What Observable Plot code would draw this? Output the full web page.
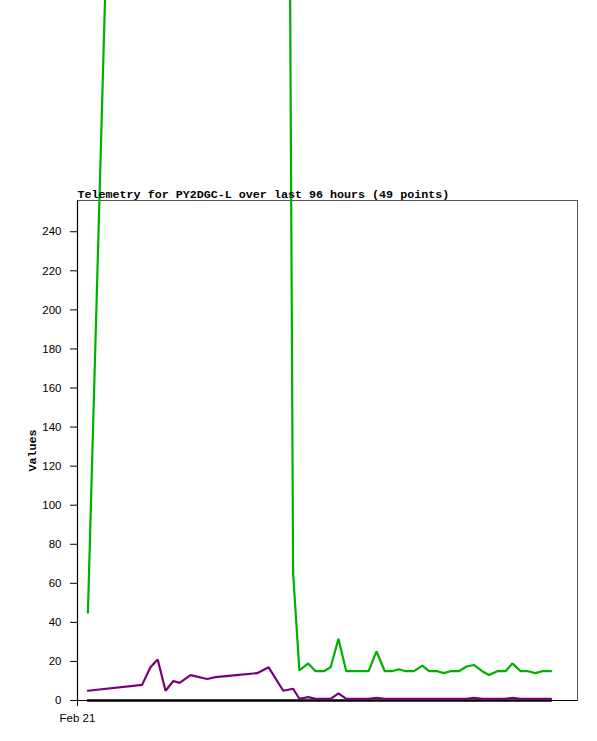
<!DOCTYPE html>
<html><head><meta charset="utf-8">
<script src="https://cdn.jsdelivr.net/npm/d3@7"></script>
<script src="https://cdn.jsdelivr.net/npm/@observablehq/plot@0.6"></script>
<style>
body{margin:0;background:#fff}
#chart svg{overflow:visible}
</style>
</head><body><div id="chart"></div>
<script>
// hours since start of window (Feb 21 00:00)
const hours = [2.0, 12.4, 14.0, 15.4, 16.9, 18.4, 19.6, 21.7, 24.9, 26.5, 30.5, 34.5, 36.7, 39.5, 41.4,
  42.6, 44.3, 45.7, 47.3, 48.6, 50.1, 51.6, 53.0, 54.5, 55.9, 57.4, 59.0, 60.4, 61.7, 63.0, 64.6,
  66.2, 67.5, 69.1, 70.3, 71.6, 73.2, 74.7, 76.1, 77.7, 79.0, 80.6, 82.2, 83.5, 85.1, 86.5, 87.9, 89.2, 90.9];
const greenValues = [45, 1040, 1040, 1040, 1040, 1040, 1040, 1040, 1040, 1040, 1040, 1040, 1040, 1040, 65,
  15.4, 19, 15, 15, 17, 31.6, 15, 15, 15, 15, 25.2, 15, 15, 16, 15, 15,
  17.9, 15, 15, 14, 15, 15, 17.4, 18.2, 15, 13.1, 15, 15, 19, 15, 15, 14, 15, 15];
const purpleValues = [5, 8, 17, 21, 5, 10, 9, 13, 11, 12, 13, 14, 17, 5, 6,
  0.9, 1.7, 0.8, 0.8, 0.8, 3.7, 0.8, 0.8, 0.8, 0.8, 1.4, 0.8, 0.8, 0.8, 0.8, 0.8,
  0.8, 0.8, 0.8, 0.8, 0.8, 0.8, 0.8, 1.4, 0.8, 0.8, 0.8, 0.8, 1.4, 0.8, 0.8, 0.8, 0.8, 0.8];
const blackValues = [0, 0, 0, 0, 0, 0, 0, 0, 0, 0, 0, 0, 0, 0, 0, 0, 0, 0, 0, 0, 0, 0, 0, 0, 0,
  0, 0, 0, 0, 0, 0, 0, 0, 0, 0, 0, 0, 0, 0, 0, 0, 0, 0, 0, 0, 0, 0, 0, 0];
const yTicks = [0, 20, 40, 60, 80, 100, 120, 140, 160, 180, 200, 220, 240];
const xTicks = [0];
const xTickLabels = ["Feb 21"];
const titleText = "Telemetry for PY2DGC-L over last 96 hours (49 points)";
const yLabel = "Values";

const rows = (vals, s) => hours.map((h, i) => ({h, v: vals[i], s}));
const black = rows(blackValues, "black");
const green = rows(greenValues, "green");
const purple = rows(purpleValues, "purple");

const mono = "'Liberation Mono', 'DejaVu Sans Mono', monospace";

const chart = Plot.plot({
  width: 597,
  height: 741,
  marginTop: 200,
  marginBottom: 41,
  marginLeft: 77,
  marginRight: 20,
  style: {fontFamily: "'Liberation Sans', 'DejaVu Sans', sans-serif", fontSize: "11.5px", background: "#fff", color: "#000"},
  x: {domain: [0, 96]},
  y: {domain: [0, 256]},
  marks: [
    Plot.frame({stroke: "#555", strokeWidth: 1}),
    Plot.ruleX([0], {stroke: "#000", strokeWidth: 1.2}),
    Plot.ruleY([0], {stroke: "#000", strokeWidth: 1.2}),
    Plot.axisY({ticks: yTicks, tickSize: 7, tickPadding: 9, label: null, tickFormat: d => String(d)}),
    Plot.axisX({ticks: xTicks, tickSize: 6, tickPadding: 7, label: null, tickFormat: (d, i) => xTickLabels[i]}),
    Plot.lineY(black, {x: "h", y: "v", stroke: "#000", strokeWidth: 2.5}),
    Plot.lineY(green, {x: "h", y: "v", stroke: "#00b000", strokeWidth: 2.2, strokeLinejoin: "miter"}),
    Plot.lineY(purple, {x: "h", y: "v", stroke: "#780078", strokeWidth: 2.2, strokeLinejoin: "miter"}),
    Plot.text([titleText], {frameAnchor: "top-left", text: d => d, dy: -3, lineAnchor: "bottom", textAnchor: "start",
      fontFamily: mono, fontWeight: "bold", fontSize: 11.7, fill: "#000"}),
    Plot.text([yLabel], {frameAnchor: "left", text: d => d, dx: -45, rotate: -90, textAnchor: "middle",
      fontFamily: mono, fontWeight: "bold", fontSize: 11.7, fill: "#000"})
  ]
});
document.getElementById("chart").append(chart);
</script>
</body></html>
